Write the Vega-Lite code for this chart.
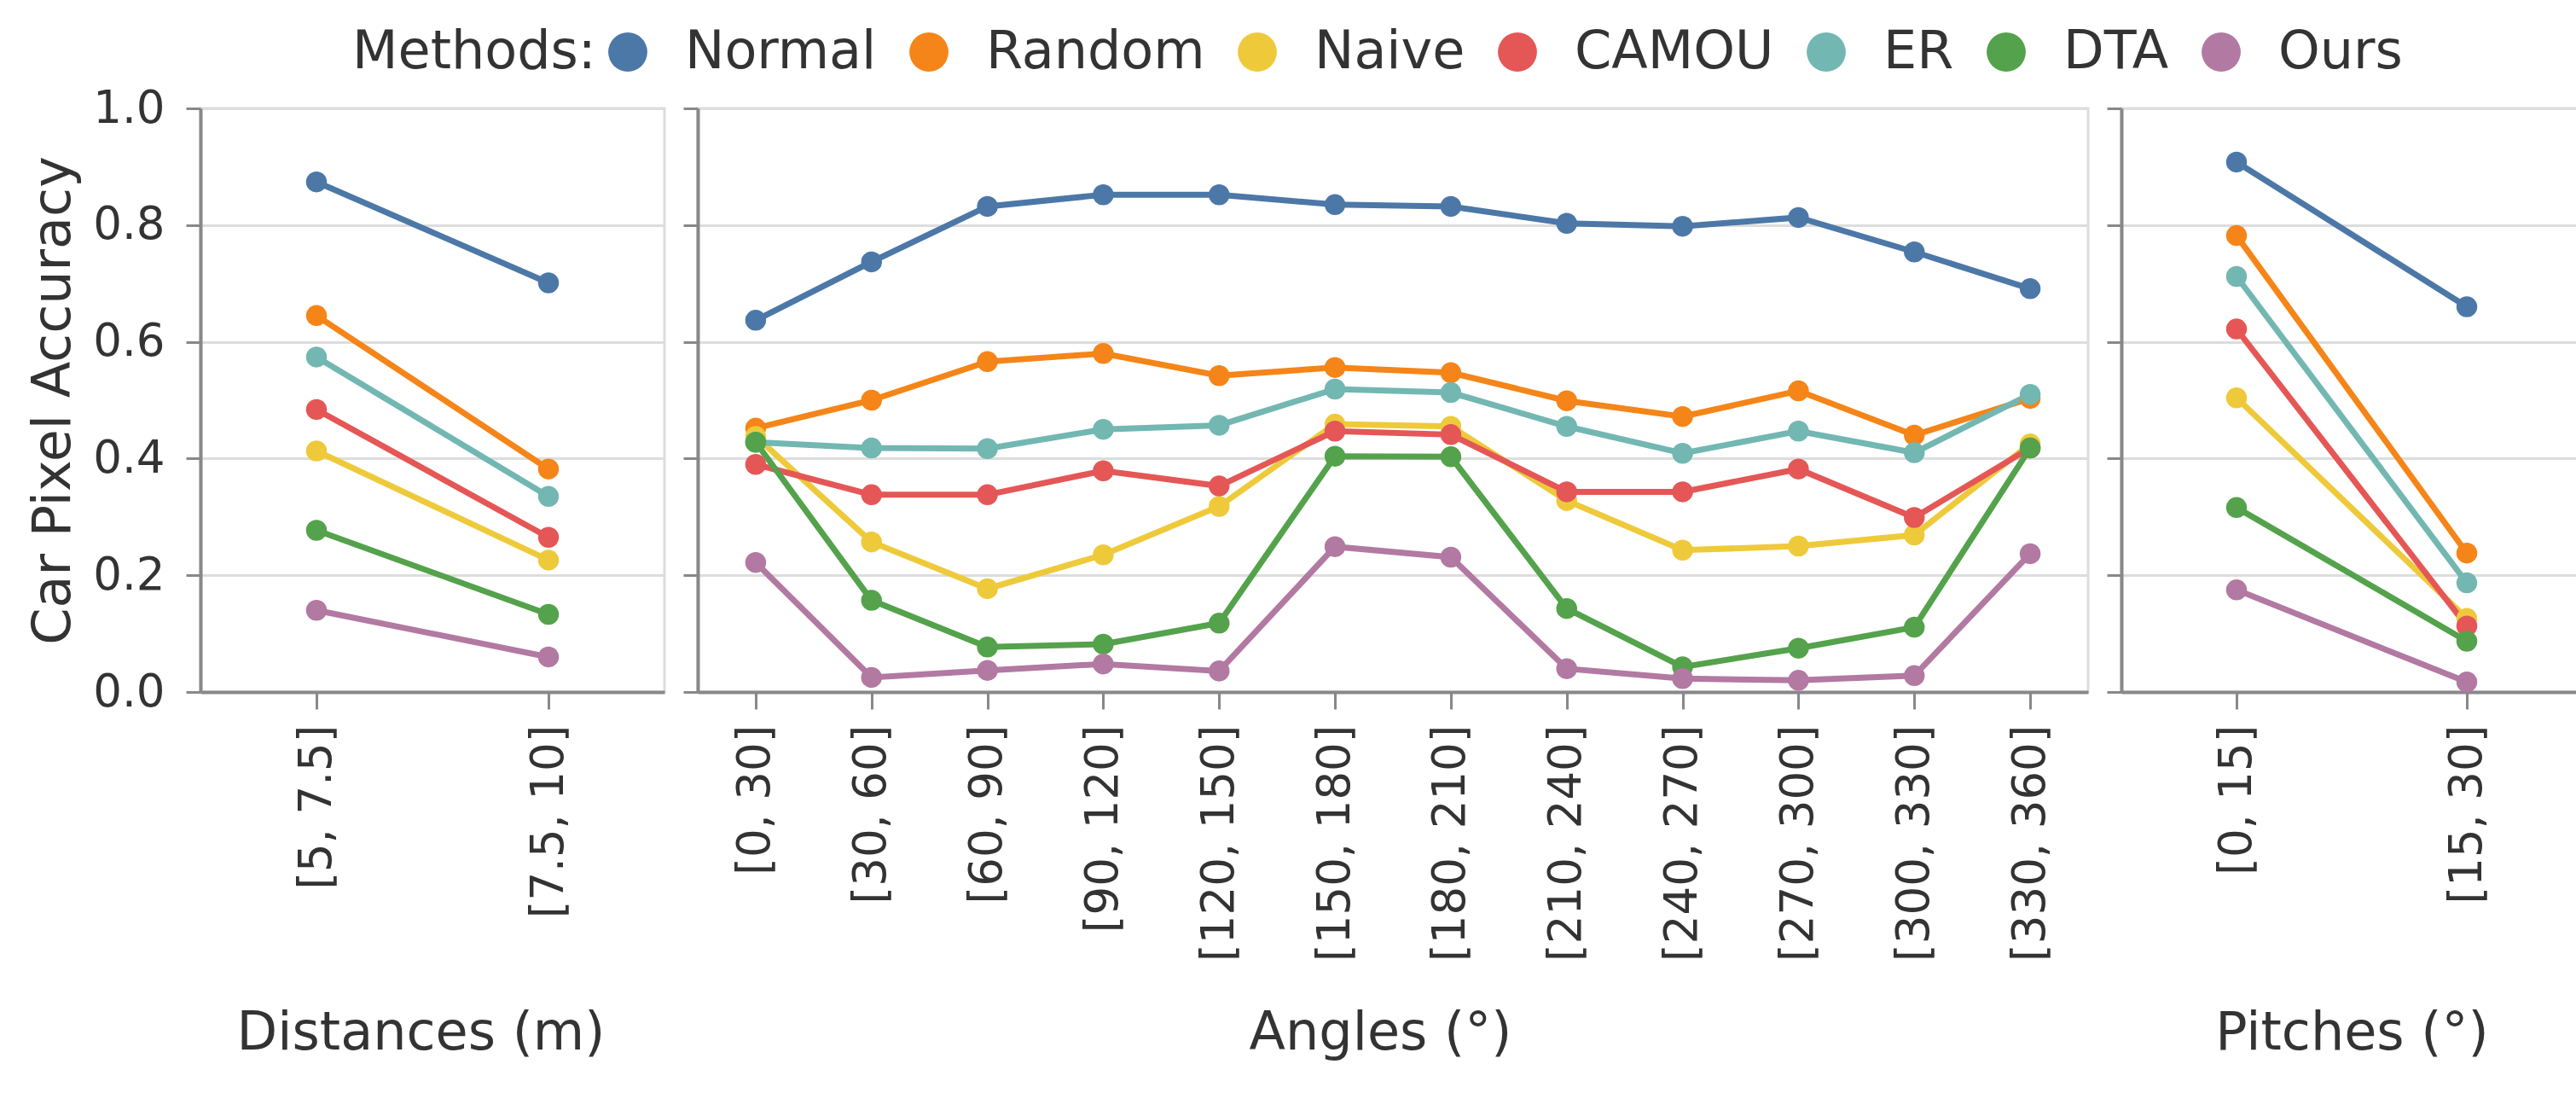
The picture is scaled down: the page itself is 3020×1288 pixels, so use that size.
{
  "$schema": "https://vega.github.io/schema/vega-lite/v6.json",
  "padding": {"left": 30, "top": 30, "right": 0, "bottom": 0},
  "background": "white",
  "data": {
    "values": [
      {"panel": "dist", "bin": "[5, 7.5]", "method": "Normal", "acc": 0.874},
      {"panel": "dist", "bin": "[7.5, 10]", "method": "Normal", "acc": 0.701},
      {"panel": "dist", "bin": "[5, 7.5]", "method": "Random", "acc": 0.645},
      {"panel": "dist", "bin": "[7.5, 10]", "method": "Random", "acc": 0.382},
      {"panel": "dist", "bin": "[5, 7.5]", "method": "Naive", "acc": 0.413},
      {"panel": "dist", "bin": "[7.5, 10]", "method": "Naive", "acc": 0.226},
      {"panel": "dist", "bin": "[5, 7.5]", "method": "CAMOU", "acc": 0.484},
      {"panel": "dist", "bin": "[7.5, 10]", "method": "CAMOU", "acc": 0.265},
      {"panel": "dist", "bin": "[5, 7.5]", "method": "ER", "acc": 0.574},
      {"panel": "dist", "bin": "[7.5, 10]", "method": "ER", "acc": 0.335},
      {"panel": "dist", "bin": "[5, 7.5]", "method": "DTA", "acc": 0.277},
      {"panel": "dist", "bin": "[7.5, 10]", "method": "DTA", "acc": 0.133},
      {"panel": "dist", "bin": "[5, 7.5]", "method": "Ours", "acc": 0.140},
      {"panel": "dist", "bin": "[7.5, 10]", "method": "Ours", "acc": 0.060},

      {"panel": "angle", "bin": "[0, 30]", "method": "Normal", "acc": 0.637},
      {"panel": "angle", "bin": "[30, 60]", "method": "Normal", "acc": 0.737},
      {"panel": "angle", "bin": "[60, 90]", "method": "Normal", "acc": 0.832},
      {"panel": "angle", "bin": "[90, 120]", "method": "Normal", "acc": 0.852},
      {"panel": "angle", "bin": "[120, 150]", "method": "Normal", "acc": 0.852},
      {"panel": "angle", "bin": "[150, 180]", "method": "Normal", "acc": 0.835},
      {"panel": "angle", "bin": "[180, 210]", "method": "Normal", "acc": 0.832},
      {"panel": "angle", "bin": "[210, 240]", "method": "Normal", "acc": 0.803},
      {"panel": "angle", "bin": "[240, 270]", "method": "Normal", "acc": 0.798},
      {"panel": "angle", "bin": "[270, 300]", "method": "Normal", "acc": 0.813},
      {"panel": "angle", "bin": "[300, 330]", "method": "Normal", "acc": 0.754},
      {"panel": "angle", "bin": "[330, 360]", "method": "Normal", "acc": 0.691},

      {"panel": "angle", "bin": "[0, 30]", "method": "Random", "acc": 0.452},
      {"panel": "angle", "bin": "[30, 60]", "method": "Random", "acc": 0.500},
      {"panel": "angle", "bin": "[60, 90]", "method": "Random", "acc": 0.566},
      {"panel": "angle", "bin": "[90, 120]", "method": "Random", "acc": 0.580},
      {"panel": "angle", "bin": "[120, 150]", "method": "Random", "acc": 0.542},
      {"panel": "angle", "bin": "[150, 180]", "method": "Random", "acc": 0.556},
      {"panel": "angle", "bin": "[180, 210]", "method": "Random", "acc": 0.547},
      {"panel": "angle", "bin": "[210, 240]", "method": "Random", "acc": 0.499},
      {"panel": "angle", "bin": "[240, 270]", "method": "Random", "acc": 0.472},
      {"panel": "angle", "bin": "[270, 300]", "method": "Random", "acc": 0.516},
      {"panel": "angle", "bin": "[300, 330]", "method": "Random", "acc": 0.440},
      {"panel": "angle", "bin": "[330, 360]", "method": "Random", "acc": 0.503},

      {"panel": "angle", "bin": "[0, 30]", "method": "Naive", "acc": 0.438},
      {"panel": "angle", "bin": "[30, 60]", "method": "Naive", "acc": 0.257},
      {"panel": "angle", "bin": "[60, 90]", "method": "Naive", "acc": 0.177},
      {"panel": "angle", "bin": "[90, 120]", "method": "Naive", "acc": 0.235},
      {"panel": "angle", "bin": "[120, 150]", "method": "Naive", "acc": 0.318},
      {"panel": "angle", "bin": "[150, 180]", "method": "Naive", "acc": 0.459},
      {"panel": "angle", "bin": "[180, 210]", "method": "Naive", "acc": 0.455},
      {"panel": "angle", "bin": "[210, 240]", "method": "Naive", "acc": 0.328},
      {"panel": "angle", "bin": "[240, 270]", "method": "Naive", "acc": 0.243},
      {"panel": "angle", "bin": "[270, 300]", "method": "Naive", "acc": 0.250},
      {"panel": "angle", "bin": "[300, 330]", "method": "Naive", "acc": 0.269},
      {"panel": "angle", "bin": "[330, 360]", "method": "Naive", "acc": 0.425},

      {"panel": "angle", "bin": "[0, 30]", "method": "CAMOU", "acc": 0.390},
      {"panel": "angle", "bin": "[30, 60]", "method": "CAMOU", "acc": 0.338},
      {"panel": "angle", "bin": "[60, 90]", "method": "CAMOU", "acc": 0.338},
      {"panel": "angle", "bin": "[90, 120]", "method": "CAMOU", "acc": 0.379},
      {"panel": "angle", "bin": "[120, 150]", "method": "CAMOU", "acc": 0.353},
      {"panel": "angle", "bin": "[150, 180]", "method": "CAMOU", "acc": 0.447},
      {"panel": "angle", "bin": "[180, 210]", "method": "CAMOU", "acc": 0.441},
      {"panel": "angle", "bin": "[210, 240]", "method": "CAMOU", "acc": 0.343},
      {"panel": "angle", "bin": "[240, 270]", "method": "CAMOU", "acc": 0.343},
      {"panel": "angle", "bin": "[270, 300]", "method": "CAMOU", "acc": 0.382},
      {"panel": "angle", "bin": "[300, 330]", "method": "CAMOU", "acc": 0.299},
      {"panel": "angle", "bin": "[330, 360]", "method": "CAMOU", "acc": 0.418},

      {"panel": "angle", "bin": "[0, 30]", "method": "ER", "acc": 0.428},
      {"panel": "angle", "bin": "[30, 60]", "method": "ER", "acc": 0.418},
      {"panel": "angle", "bin": "[60, 90]", "method": "ER", "acc": 0.417},
      {"panel": "angle", "bin": "[90, 120]", "method": "ER", "acc": 0.450},
      {"panel": "angle", "bin": "[120, 150]", "method": "ER", "acc": 0.457},
      {"panel": "angle", "bin": "[150, 180]", "method": "ER", "acc": 0.519},
      {"panel": "angle", "bin": "[180, 210]", "method": "ER", "acc": 0.513},
      {"panel": "angle", "bin": "[210, 240]", "method": "ER", "acc": 0.455},
      {"panel": "angle", "bin": "[240, 270]", "method": "ER", "acc": 0.409},
      {"panel": "angle", "bin": "[270, 300]", "method": "ER", "acc": 0.447},
      {"panel": "angle", "bin": "[300, 330]", "method": "ER", "acc": 0.410},
      {"panel": "angle", "bin": "[330, 360]", "method": "ER", "acc": 0.510},

      {"panel": "angle", "bin": "[0, 30]", "method": "DTA", "acc": 0.428},
      {"panel": "angle", "bin": "[30, 60]", "method": "DTA", "acc": 0.157},
      {"panel": "angle", "bin": "[60, 90]", "method": "DTA", "acc": 0.077},
      {"panel": "angle", "bin": "[90, 120]", "method": "DTA", "acc": 0.082},
      {"panel": "angle", "bin": "[120, 150]", "method": "DTA", "acc": 0.118},
      {"panel": "angle", "bin": "[150, 180]", "method": "DTA", "acc": 0.404},
      {"panel": "angle", "bin": "[180, 210]", "method": "DTA", "acc": 0.403},
      {"panel": "angle", "bin": "[210, 240]", "method": "DTA", "acc": 0.143},
      {"panel": "angle", "bin": "[240, 270]", "method": "DTA", "acc": 0.043},
      {"panel": "angle", "bin": "[270, 300]", "method": "DTA", "acc": 0.075},
      {"panel": "angle", "bin": "[300, 330]", "method": "DTA", "acc": 0.111},
      {"panel": "angle", "bin": "[330, 360]", "method": "DTA", "acc": 0.418},

      {"panel": "angle", "bin": "[0, 30]", "method": "Ours", "acc": 0.222},
      {"panel": "angle", "bin": "[30, 60]", "method": "Ours", "acc": 0.025},
      {"panel": "angle", "bin": "[60, 90]", "method": "Ours", "acc": 0.037},
      {"panel": "angle", "bin": "[90, 120]", "method": "Ours", "acc": 0.048},
      {"panel": "angle", "bin": "[120, 150]", "method": "Ours", "acc": 0.036},
      {"panel": "angle", "bin": "[150, 180]", "method": "Ours", "acc": 0.249},
      {"panel": "angle", "bin": "[180, 210]", "method": "Ours", "acc": 0.231},
      {"panel": "angle", "bin": "[210, 240]", "method": "Ours", "acc": 0.040},
      {"panel": "angle", "bin": "[240, 270]", "method": "Ours", "acc": 0.023},
      {"panel": "angle", "bin": "[270, 300]", "method": "Ours", "acc": 0.020},
      {"panel": "angle", "bin": "[300, 330]", "method": "Ours", "acc": 0.028},
      {"panel": "angle", "bin": "[330, 360]", "method": "Ours", "acc": 0.237},

      {"panel": "pitch", "bin": "[0, 15]", "method": "Normal", "acc": 0.908},
      {"panel": "pitch", "bin": "[15, 30]", "method": "Normal", "acc": 0.660},
      {"panel": "pitch", "bin": "[0, 15]", "method": "Random", "acc": 0.782},
      {"panel": "pitch", "bin": "[15, 30]", "method": "Random", "acc": 0.238},
      {"panel": "pitch", "bin": "[0, 15]", "method": "Naive", "acc": 0.504},
      {"panel": "pitch", "bin": "[15, 30]", "method": "Naive", "acc": 0.126},
      {"panel": "pitch", "bin": "[0, 15]", "method": "CAMOU", "acc": 0.622},
      {"panel": "pitch", "bin": "[15, 30]", "method": "CAMOU", "acc": 0.113},
      {"panel": "pitch", "bin": "[0, 15]", "method": "ER", "acc": 0.712},
      {"panel": "pitch", "bin": "[15, 30]", "method": "ER", "acc": 0.187},
      {"panel": "pitch", "bin": "[0, 15]", "method": "DTA", "acc": 0.316},
      {"panel": "pitch", "bin": "[15, 30]", "method": "DTA", "acc": 0.087},
      {"panel": "pitch", "bin": "[0, 15]", "method": "Ours", "acc": 0.175},
      {"panel": "pitch", "bin": "[15, 30]", "method": "Ours", "acc": 0.017}
    ]
  },
  "spacing": 17,
  "resolve": {"scale": {"x": "independent"}},
  "hconcat": [
    {
      "width": 544,
      "height": 684,
      "transform": [{"filter": "datum.panel == 'dist'"}],
      "encoding": {
        "x": {"field": "bin", "type": "nominal", "sort": null, "title": "Distances (m)",
              "axis": {"titleX": 258}},
        "y": {"field": "acc", "type": "quantitative", "title": "Car Pixel Accuracy",
              "scale": {"domain": [0, 1]},
              "axis": {"values": [0, 0.2, 0.4, 0.6, 0.8, 1.0], "format": ".1f"}},
        "color": {"field": "method", "type": "nominal", "sort": null, "title": "Methods:"}
      },
      "layer": [
        {"mark": {"type": "line", "strokeWidth": 7}},
        {"mark": {"type": "point", "filled": true, "opacity": 1, "size": 600}}
      ]
    },
    {
      "width": 1630,
      "height": 684,
      "transform": [{"filter": "datum.panel == 'angle'"}],
      "encoding": {
        "x": {"field": "bin", "type": "nominal", "sort": null, "title": "Angles (°)",
              "axis": {"titleX": 800}},
        "y": {"field": "acc", "type": "quantitative", "title": null,
              "scale": {"domain": [0, 1]},
              "axis": {"values": [0, 0.2, 0.4, 0.6, 0.8, 1.0], "labels": false}},
        "color": {"field": "method", "type": "nominal", "sort": null, "title": "Methods:"}
      },
      "layer": [
        {"mark": {"type": "line", "strokeWidth": 7}},
        {"mark": {"type": "point", "filled": true, "opacity": 1, "size": 600}}
      ]
    },
    {
      "width": 540,
      "height": 684,
      "transform": [{"filter": "datum.panel == 'pitch'"}],
      "encoding": {
        "x": {"field": "bin", "type": "nominal", "sort": null, "title": "Pitches (°)"},
        "y": {"field": "acc", "type": "quantitative", "title": null,
              "scale": {"domain": [0, 1]},
              "axis": {"values": [0, 0.2, 0.4, 0.6, 0.8, 1.0], "labels": false}},
        "color": {"field": "method", "type": "nominal", "sort": null, "title": "Methods:"}
      },
      "layer": [
        {"mark": {"type": "line", "strokeWidth": 7}},
        {"mark": {"type": "point", "filled": true, "opacity": 1, "size": 600}}
      ]
    }
  ],
  "config": {
    "font": "DejaVu Sans",
    "view": {"stroke": "#dddddd", "strokeWidth": 3},
    "range": {
      "category": ["#4c78a8", "#f58518", "#eeca3b", "#e45756", "#72b7b2", "#54a24b", "#b279a2"]
    },
    "axis": {
      "domainColor": "#888888",
      "domainWidth": 4,
      "tickColor": "#888888",
      "tickWidth": 3,
      "gridColor": "#dddddd",
      "gridWidth": 3,
      "labelColor": "#333333",
      "titleColor": "#333333",
      "labelFont": "DejaVu Sans",
      "titleFont": "DejaVu Sans",
      "labelFontSize": 53,
      "labelLimit": 1000,
      "titleFontSize": 62,
      "titleFontWeight": "normal"
    },
    "axisX": {
      "grid": false,
      "tickSize": 20,
      "labelAngle": -90,
      "labelPadding": 18,
      "titleY": 399,
      "titleBaseline": "middle"
    },
    "axisY": {
      "grid": true,
      "tickSize": 17,
      "labelPadding": 25,
      "titlePadding": 14
    },
    "legend": {
      "orient": "none",
      "legendX": 178,
      "legendY": -97,
      "direction": "horizontal",
      "titleOrient": "left",
      "titleFontSize": 62,
      "titleFontWeight": "normal",
      "titleColor": "#333333",
      "titleLimit": 1000,
      "titlePadding": 6,
      "labelFontSize": 62,
      "labelColor": "#333333",
      "labelLimit": 1000,
      "labelOffset": 36,
      "columnPadding": 30,
      "symbolType": "circle",
      "symbolSize": 2100,
      "symbolStrokeWidth": 0,
      "symbolOpacity": 1
    }
  }
}
